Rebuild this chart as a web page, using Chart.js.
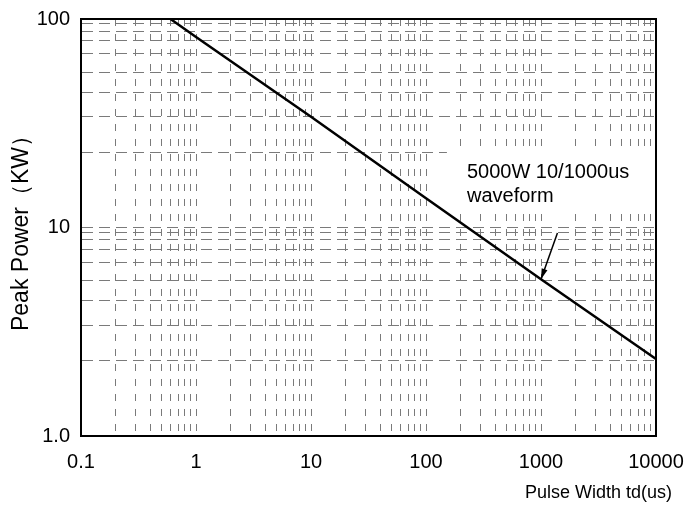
<!DOCTYPE html>
<html>
<head>
<meta charset="utf-8">
<script src="https://cdn.jsdelivr.net/npm/chart.js@4/dist/chart.umd.min.js"></script>
<style>
  html, body { margin: 0; padding: 0; background: #fff; }
</style>
</head>
<body>
<canvas id="powerChart" width="685" height="505"></canvas>
<script>
// curve (log-log straight line)
const pulseWidth = [0.6, 1, 10, 100, 1000, 10000];
const peakPower = [100, 82, 34, 13.8, 5.65, 2.34];

const xTickValues = [0.1, 1, 10, 100, 1000, 10000];
const xTickLabels = ['0.1', '1', '10', '100', '1000', '10000'];
const yTickValues = [1, 10, 100];
const yTickLabels = ['1.0', '10', '100'];
// horizontal grid lines sit where the original printed them, not on round values
const yGridValues = [2.3, 3.4, 4.45, 5.55, 6.8, 7.85, 8.8, 9.45, 23, 34, 44.5, 55.5, 68, 78.5, 87.5, 95.5];
const xMinorSteps = [2, 3, 4, 5, 6, 7, 8, 9];

const noteLines = ['5000W 10/1000us', 'waveform'];

const FONT = '"Liberation Sans", Arial, Helvetica, sans-serif';
const GRID = '#7a7a7a';

const xGridValues = [];
xTickValues.forEach((d, i) => {
  xGridValues.push(d);
  if (i < xTickValues.length - 1) xMinorSteps.forEach(k => xGridValues.push(+(d * k).toPrecision(3)));
});
const yAll = yTickValues.concat(yGridValues).sort((a, b) => a - b);

const annotate = {
  id: 'annotate',
  beforeDatasetsDraw(chart) {
    const { ctx, scales: { x, y } } = chart;
    // white patch behind the note
    const l = x.getPixelForValue(152), r = x.getPixelForValue(10000);
    const t = y.getPixelForValue(24), b = y.getPixelForValue(12);
    ctx.save();
    ctx.fillStyle = '#fff';
    ctx.fillRect(l, t, r - l - 1, b - t);
    ctx.restore();
  },
  afterDraw(chart) {
    const { ctx, chartArea: a, scales: { x, y } } = chart;
    ctx.save();
    // frame
    ctx.strokeStyle = '#000';
    ctx.lineWidth = 2;
    ctx.strokeRect(a.left, a.top, a.right - a.left, a.bottom - a.top);

    // note text
    ctx.fillStyle = '#000';
    ctx.font = '20px ' + FONT;
    ctx.textAlign = 'left';
    ctx.textBaseline = 'alphabetic';
    const tx = x.getPixelForValue(227);
    ctx.fillText(noteLines[0], tx, y.getPixelForValue(17.3));
    ctx.fillText(noteLines[1], tx, y.getPixelForValue(13.3));

    // arrow to the curve
    const x0 = x.getPixelForValue(1390), y0 = y.getPixelForValue(9.4);
    const x1 = x.getPixelForValue(1000), y1 = y.getPixelForValue(5.65);
    ctx.lineWidth = 1.5;
    ctx.beginPath();
    ctx.moveTo(x0, y0);
    ctx.lineTo(x1, y1);
    ctx.stroke();
    const ang = Math.atan2(y1 - y0, x1 - x0);
    ctx.beginPath();
    ctx.moveTo(x1, y1);
    ctx.lineTo(x1 - 11 * Math.cos(ang - 0.28), y1 - 11 * Math.sin(ang - 0.28));
    ctx.lineTo(x1 - 11 * Math.cos(ang + 0.28), y1 - 11 * Math.sin(ang + 0.28));
    ctx.closePath();
    ctx.fill();

    // x axis title, right side under the axis
    ctx.font = '18px ' + FONT;
    ctx.textAlign = 'right';
    ctx.textBaseline = 'middle';
    ctx.fillText('Pulse Width td(us)', 672, 493);
    ctx.restore();
  }
};

const ctx = document.getElementById('powerChart').getContext('2d');
new Chart(ctx, {
  type: 'line',
  data: {
    datasets: [{
      data: pulseWidth.map((v, i) => ({ x: v, y: peakPower[i] })),
      borderColor: '#000',
      borderWidth: 2.5,
      pointRadius: 0,
      tension: 0,
      fill: false
    }]
  },
  options: {
    responsive: false,
    animation: false,
    layout: { padding: { top: 19, right: 29, left: 0, bottom: 0 } },
    plugins: {
      legend: { display: false },
      tooltip: { enabled: false }
    },
    scales: {
      x: {
        type: 'logarithmic',
        min: 0.1,
        max: 10000,
        afterBuildTicks: s => { s.ticks = xGridValues.map(v => ({ value: v })); },
        afterFit: s => { s.height = 69; s.paddingLeft = 0; s.paddingRight = 0; },
        grid: { color: GRID, lineWidth: 1, drawTicks: false },
        border: { color: '#000', width: 2, dash: [7, 8] },
        ticks: {
          autoSkip: false,
          maxRotation: 0,
          padding: 14,
          color: '#000',
          font: { family: FONT, size: 20 },
          callback: v => {
            const i = xTickValues.indexOf(v);
            return i < 0 ? '' : xTickLabels[i];
          }
        }
      },
      y: {
        type: 'logarithmic',
        min: 1,
        max: 100,
        afterBuildTicks: s => { s.ticks = yAll.map(v => ({ value: v })); },
        afterFit: s => { s.width = 81; s.paddingTop = 0; s.paddingBottom = 0; },
        grid: { color: GRID, lineWidth: 1, drawTicks: false },
        border: { color: '#000', width: 2, dash: [11, 6] },
        ticks: {
          autoSkip: false,
          padding: 11,
          color: '#000',
          font: { family: FONT, size: 20 },
          callback: v => {
            const i = yTickValues.indexOf(v);
            return i < 0 ? '' : yTickLabels[i];
          }
        },
        title: {
          display: true,
          text: 'Peak Power（KW）',
          color: '#000',
          font: { family: FONT, size: 23 },
          padding: { top: 8, bottom: 0 }
        }
      }
    }
  },
  plugins: [annotate]
});
</script>
</body>
</html>
